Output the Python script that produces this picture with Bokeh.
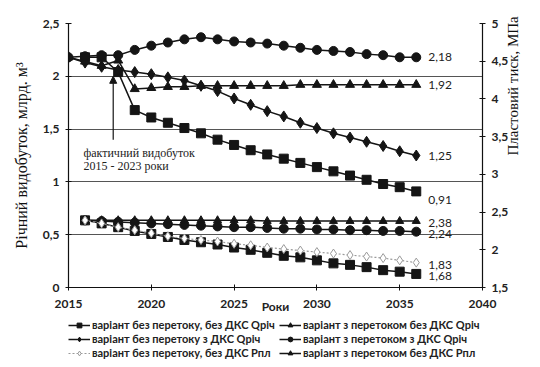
import math
from bokeh.plotting import figure
from bokeh.layouts import column
from bokeh.models import (Range1d, LinearAxis, FixedTicker, CustomJSTickFormatter,
                          Legend, LegendItem, Arrow, NormalHead, Label)
from bokeh.core.properties import value
from bokeh.embed import file_html
from bokeh.resources import INLINE

# ---------------- data ----------------
years_a = list(range(2015, 2037))   # 22 points
years_b = list(range(2016, 2037))   # 21 points

# annual production, bcm (left axis)
q_no_flow_no_dks = [2.18, 2.18, 2.04, 1.68, 1.61, 1.56, 1.51, 1.46, 1.40, 1.35, 1.30,
                    1.26, 1.22, 1.18, 1.14, 1.10, 1.06, 1.02, 0.98, 0.95, 0.91]          # years_b
q_no_flow_dks = [2.18, 2.13, 2.09, 2.06, 2.04, 2.02, 1.99, 1.96, 1.91, 1.86, 1.79,
                 1.73, 1.67, 1.62, 1.56, 1.51, 1.46, 1.42, 1.38, 1.34, 1.29, 1.25]      # years_a
q_flow_no_dks = [2.18, 2.14, 2.10, 2.15, 1.88, 1.89, 1.90, 1.90, 1.91, 1.91, 1.91,
                 1.91, 1.91, 1.91, 1.92, 1.92, 1.92, 1.92, 1.92, 1.92, 1.92, 1.92]      # years_a
q_flow_dks = [2.18, 2.19, 2.20, 2.20, 2.25, 2.29, 2.32, 2.35, 2.37, 2.35, 2.33,
              2.32, 2.31, 2.29, 2.27, 2.25, 2.24, 2.23, 2.21, 2.20, 2.18, 2.18]         # years_a

# reservoir pressure, MPa (right axis), years_b
p_no_flow_no_dks = [2.39, 2.35, 2.30, 2.25, 2.21, 2.17, 2.13, 2.10, 2.07, 2.03, 2.00,
                    1.96, 1.92, 1.90, 1.86, 1.82, 1.80, 1.77, 1.73, 1.71, 1.68]
p_flow_dks = [2.39, 2.38, 2.37, 2.36, 2.35, 2.34, 2.33, 2.32, 2.31, 2.30, 2.30,
              2.29, 2.28, 2.28, 2.27, 2.27, 2.26, 2.26, 2.25, 2.25, 2.24]
p_flow_no_dks = [2.39, 2.39, 2.39, 2.39, 2.39, 2.39, 2.39, 2.39, 2.39, 2.39, 2.39,
                 2.38, 2.38, 2.38, 2.38, 2.38, 2.38, 2.38, 2.38, 2.38, 2.38]
p_no_flow_no_dks_dot = [2.39, 2.35, 2.30, 2.26, 2.22, 2.18, 2.15, 2.13, 2.11, 2.08, 2.06,
                        2.03, 2.01, 1.99, 1.97, 1.95, 1.93, 1.91, 1.89, 1.86, 1.83]

x_ticks = [2015, 2020, 2025, 2030, 2035, 2040]
left_ticks = [0, 0.5, 1, 1.5, 2, 2.5]
right_ticks = [1.5, 2, 2.5, 3, 3.5, 4, 4.5, 5]

legend_labels = [
    "варіант без перетоку, без ДКС Qріч",
    "варіант з перетоком без ДКС Qріч",
    "варіант без перетоку з ДКС Qріч",
    "варіант з перетоком з ДКС Qріч",
    "варіант без перетоку, без ДКС Рпл",
    "варіант з перетоком без ДКС Рпл",
]
end_labels_left = ["2,18", "1,92", "1,25", "0,91"]
end_labels_right = ["2,38", "2,24", "1,83", "1,68"]

# ---------------- main figure ----------------
TICK_FONT = "Lato"
BLACK = "#151515"
p = figure(width=532, height=317, x_range=Range1d(2015, 2040), y_range=Range1d(0, 2.5),
           output_backend="svg", toolbar_location=None,
           min_border_left=68, min_border_right=46, min_border_top=23, min_border_bottom=30)
p.extra_y_ranges = {"p": Range1d(1.5, 5)}
p.outline_line_color = None
p.background_fill_color = "white"
p.border_fill_color = "white"

comma = CustomJSTickFormatter(code="return tick.toString().replace('.', ',');")

def style_axis(ax):
    ax.axis_line_color = "#111111"
    ax.axis_line_width = 1.2
    ax.major_tick_line_color = "#111111"
    ax.major_tick_in = 3
    ax.major_tick_out = 3
    ax.minor_tick_line_color = None
    ax.major_label_text_font = TICK_FONT
    ax.major_label_text_font_style = "bold"
    ax.major_label_text_font_size = "12px"
    ax.major_label_text_color = "#222222"

xa = p.xaxis[0]
xa.ticker = FixedTicker(ticks=x_ticks)
style_axis(xa)
xa.major_label_standoff = 9
xa.axis_label = "Роки"
xa.axis_label_text_font = TICK_FONT
xa.axis_label_text_font_style = "bold"
xa.axis_label_text_font_size = "12px"
xa.axis_label_text_color = "#222222"
xa.axis_label_standoff = -12

ya = p.yaxis[0]
ya.ticker = FixedTicker(ticks=left_ticks)
ya.formatter = comma
style_axis(ya)
ya.major_label_standoff = 6
ya.axis_label = "Річний видобуток, млрд. м³"
ya.axis_label_text_font = "Liberation Serif"
ya.axis_label_text_font_style = "normal"
ya.axis_label_text_font_size = "16px"
ya.axis_label_text_color = "#111111"
ya.axis_label_standoff = 10

ra = LinearAxis(y_range_name="p", ticker=FixedTicker(ticks=right_ticks), formatter=comma)
style_axis(ra)
ra.major_label_standoff = 6
ra.axis_label = "Пластовий тиск, МПа"
ra.axis_label_text_font = "Liberation Serif"
ra.axis_label_text_font_style = "normal"
ra.axis_label_text_font_size = "15px"
ra.axis_label_text_color = "#111111"
ra.axis_label_standoff = 2
ra.axis_label_orientation = math.pi / 2
p.add_layout(ra, "right")

p.xgrid.visible = False
p.ygrid.ticker = FixedTicker(ticks=left_ticks)
p.ygrid.grid_line_color = "#555555"
p.ygrid.grid_line_width = 1

STYLES = {
    "sq": dict(marker="square", size=9, color=BLACK, fill=BLACK, dash="solid", lw=1.5),
    "dia": dict(marker="diamond", size=11, color=BLACK, fill=BLACK, dash="solid", lw=1.5),
    "tri": dict(marker="triangle", size=9, color=BLACK, fill=BLACK, dash="solid", lw=1.5),
    "circ": dict(marker="circle", size=9, color=BLACK, fill=BLACK, dash="solid", lw=1.5),
    "tri_s": dict(marker="triangle", size=8, color=BLACK, fill=BLACK, dash="solid", lw=1.5),
    "dot": dict(marker="diamond", size=9, color="#9a9a9a", fill="white", dash="2 2", lw=1.2),
}

def series(fig, xs, ys, style, y_range_name="default"):
    s = STYLES[style]
    ln = fig.line(xs, ys, line_color=s["color"], line_width=s["lw"], line_dash=s["dash"],
                  y_range_name=y_range_name)
    sc = fig.scatter(xs, ys, marker=s["marker"], size=s["size"], line_color=s["color"],
                     fill_color=s["fill"], y_range_name=y_range_name)
    return [ln, sc]

series(p, years_b, q_no_flow_no_dks, "sq")
series(p, years_a, q_no_flow_dks, "dia")
series(p, years_a, q_flow_no_dks, "tri")
series(p, years_a, q_flow_dks, "circ")
series(p, years_b, p_no_flow_no_dks, "sq", "p")
series(p, years_b, p_flow_dks, "circ", "p")
series(p, years_b, p_flow_no_dks, "tri_s", "p")
series(p, years_b, p_no_flow_no_dks_dot, "dot", "p")

# end-value labels
p.text(x=[years_a[-1]] * 3, y=[q_flow_dks[-1], q_flow_no_dks[-1], q_no_flow_dks[-1]],
       text=end_labels_left[:3], x_offset=12, text_baseline="middle",
       text_font=value(TICK_FONT), text_font_size="12px", text_color="#222222")
p.text(x=[years_b[-1]], y=[q_no_flow_no_dks[-1]], text=end_labels_left[3:],
       x_offset=12, y_offset=9, text_baseline="middle",
       text_font=value(TICK_FONT), text_font_size="12px", text_color="#222222")
p.text(x=[years_b[-1]] * 4,
       y=[p_flow_no_dks[-1], p_flow_dks[-1], p_no_flow_no_dks_dot[-1], p_no_flow_no_dks[-1]],
       text=end_labels_right, x_offset=12, y_offset=2, text_baseline="middle",
       text_font=value(TICK_FONT), text_font_size="12px", text_color="#222222",
       y_range_name="p")

# annotation: actual production 2015-2023
p.add_layout(Arrow(end=NormalHead(size=7, fill_color=BLACK, line_color=BLACK),
                   x_start=2017.7, y_start=1.40, x_end=2017.7, y_end=2.0,
                   line_color=BLACK, line_width=1.2))
for txt, yy in (("фактичний видобуток", 1.27), ("2015 - 2023 роки", 1.155)):
    p.add_layout(Label(x=2015.9, y=yy, text=txt, text_baseline="middle",
                       text_font="Liberation Serif", text_font_size="12px",
                       text_color="#222222"))

# ---------------- legend strip below the chart ----------------
lg = figure(width=532, height=42, x_range=Range1d(0, 1), y_range=Range1d(0, 1),
            output_backend="svg", toolbar_location=None,
            x_axis_location=None, y_axis_location=None,
            min_border_left=0, min_border_right=0, min_border_top=0, min_border_bottom=0)
lg.outline_line_color = None
lg.xgrid.visible = False
lg.ygrid.visible = False
lg.background_fill_color = "white"
lg.border_fill_color = "white"

nan = float("nan")
legend_styles = ["sq", "tri", "dia", "circ", "dot", "tri_s"]
items = [LegendItem(label=lab, renderers=series(lg, [nan], [nan], st))
         for lab, st in zip(legend_labels, legend_styles)]
legend = Legend(items=items, location=(0, 0), orientation="horizontal", ncols=2,
                label_text_font=TICK_FONT, label_text_font_style="bold",
                label_text_font_size="11px", label_text_color="#222222",
                glyph_width=22, glyph_height=12, label_height=12, label_standoff=2,
                label_width=186, spacing=1, padding=2, margin=0,
                border_line_color=None, background_fill_alpha=0)
lg.add_layout(legend)

layout = column(p, lg, spacing=0)
open("out.html", "w").write(file_html(layout, INLINE))
